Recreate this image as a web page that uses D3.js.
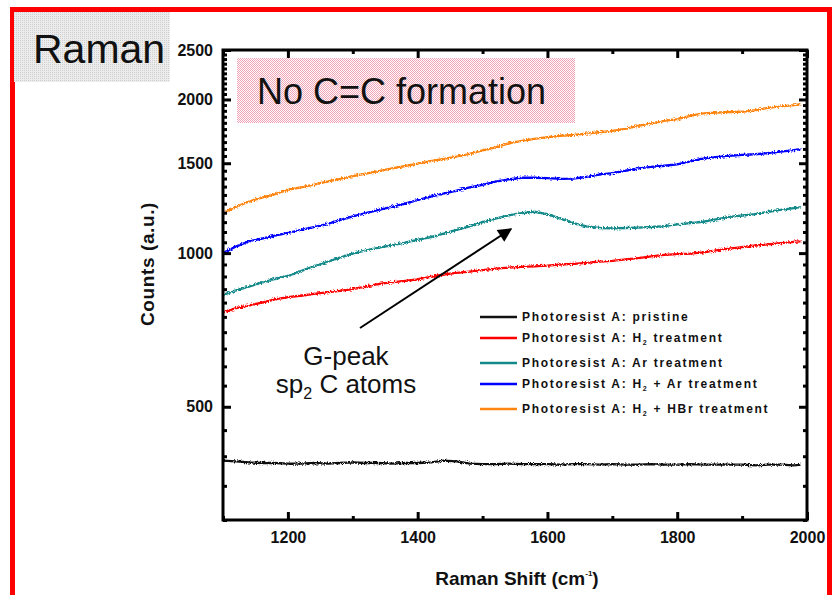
<!DOCTYPE html>
<html>
<head>
<meta charset="utf-8">
<script src="https://cdn.jsdelivr.net/npm/d3@7"></script>
<style>
  body { margin: 0; background: #fff; }
  text { font-family: "Liberation Sans", Arial, sans-serif; }
</style>
</head>
<body>
<script>
var w = 832;
var h = 595;

// Raman shift positions (cm-1)
var shift = [1100, 1120, 1140, 1160, 1180, 1200, 1220, 1240, 1260, 1280,
             1300, 1320, 1340, 1360, 1380, 1400, 1420, 1440, 1460, 1480,
             1500, 1520, 1540, 1560, 1580, 1600, 1620, 1640, 1660, 1680,
             1700, 1720, 1740, 1760, 1780, 1800, 1820, 1840, 1860, 1880,
             1900, 1920, 1940, 1960, 1980, 1990];

var pristine = [392, 391, 389, 388, 388, 387, 387, 388, 387, 388,
                389, 388, 388, 387, 388, 388, 389, 392, 391, 387,
                386, 386, 387, 386, 386, 386, 385, 386, 386, 385,
                386, 385, 385, 386, 385, 385, 386, 385, 385, 385,
                385, 384, 385, 385, 384, 385];

var h2Treat = [765, 780, 790, 800, 812, 820, 825, 832, 838, 843,
               850, 860, 870, 876, 882, 888, 898, 908, 915, 920,
               926, 932, 937, 940, 942, 945, 950, 953, 957, 962,
               966, 972, 978, 985, 992, 995, 998, 1003, 1012, 1020,
               1027, 1035, 1040, 1046, 1052, 1055];

var arTreat = [828, 845, 860, 875, 890, 902, 922, 942, 960, 980,
               998, 1012, 1025, 1035, 1048, 1062, 1075, 1092, 1110, 1128,
               1150, 1168, 1186, 1198, 1205, 1192, 1168, 1145, 1128, 1120,
               1118, 1120, 1122, 1125, 1130, 1138, 1145, 1152, 1165, 1178,
               1185, 1192, 1205, 1215, 1225, 1230];

var h2ArTreat = [1000, 1030, 1055, 1068, 1082, 1095, 1110, 1125, 1140, 1160,
                 1180, 1198, 1215, 1232, 1250, 1270, 1290, 1308, 1325, 1345,
                 1360, 1380, 1395, 1405, 1405, 1402, 1398, 1400, 1410, 1425,
                 1435, 1450, 1466, 1475, 1483, 1492, 1512, 1532, 1542, 1550,
                 1558, 1562, 1570, 1580, 1592, 1598];

var h2HbrTreat = [1200, 1232, 1262, 1285, 1305, 1330, 1345, 1362, 1380, 1398,
                  1415, 1432, 1448, 1465, 1480, 1498, 1515, 1530, 1545, 1565,
                  1590, 1612, 1640, 1660, 1675, 1688, 1698, 1705, 1715, 1725,
                  1735, 1752, 1775, 1795, 1815, 1830, 1858, 1878, 1885, 1890,
                  1892, 1905, 1925, 1938, 1950, 1958];

var seriesNames = ["Photoresist A: pristine",
                   "Photoresist A: H2 treatment",
                   "Photoresist A: Ar treatment",
                   "Photoresist A: H2 + Ar treatment",
                   "Photoresist A: H2 + HBr treatment"];
var seriesValues = [pristine, h2Treat, arTreat, h2ArTreat, h2HbrTreat];
var seriesColors = ["#111111", "#ff0000", "#138a8a", "#0000ff", "#ff8410"];

var xTicks = [1200, 1400, 1600, 1800, 2000];
var yTicks = [500, 1000, 1500, 2000, 2500];

var svg = d3.select("body")
            .append("svg")
            .attr("width", w)
            .attr("height", h);

var defs = svg.append("defs");

var pinkPat = defs.append("pattern")
    .attr("id", "pink").attr("patternUnits", "userSpaceOnUse")
    .attr("width", 2).attr("height", 2);
pinkPat.append("rect").attr("width", 2).attr("height", 2).attr("fill", "#fff");
pinkPat.append("rect").attr("width", 1).attr("height", 1).attr("fill", "#f3a3b6");
pinkPat.append("rect").attr("x", 1).attr("y", 1).attr("width", 1).attr("height", 1).attr("fill", "#f3a3b6");

var grayPat = defs.append("pattern")
    .attr("id", "gray").attr("patternUnits", "userSpaceOnUse")
    .attr("width", 2).attr("height", 2);
grayPat.append("rect").attr("width", 2).attr("height", 2).attr("fill", "#ececec");
grayPat.append("rect").attr("width", 1).attr("height", 1).attr("fill", "#cfcfcf");

// jagged spectrum look
var rough = defs.append("filter").attr("id", "rough")
    .attr("filterUnits", "userSpaceOnUse")
    .attr("x", 200).attr("y", 30).attr("width", 630).attr("height", 520);
rough.append("feTurbulence").attr("type", "fractalNoise")
    .attr("baseFrequency", "0.7").attr("numOctaves", 2).attr("seed", 4)
    .attr("result", "n");
rough.append("feDisplacementMap").attr("in", "SourceGraphic").attr("in2", "n")
    .attr("scale", 4).attr("xChannelSelector", "R").attr("yChannelSelector", "G");

var arrowHead = defs.append("marker")
    .attr("id", "head").attr("viewBox", "0 0 10 10")
    .attr("refX", 9).attr("refY", 5)
    .attr("markerWidth", 8).attr("markerHeight", 7)
    .attr("markerUnits", "strokeWidth")
    .attr("orient", "auto");
arrowHead.append("path").attr("d", "M0,0 L10,5 L0,10 z").attr("fill", "#000");

// slide frame
svg.append("rect")
   .attr("x", 12.5).attr("y", 9.5)
   .attr("width", 817).attr("height", 700)
   .attr("fill", "none")
   .attr("stroke", "#ff0000")
   .attr("stroke-width", 5);

svg.append("rect")
   .attr("x", 14).attr("y", 12).attr("width", 156).attr("height", 70)
   .attr("fill", "url(#gray)");
svg.append("text")
   .attr("x", 33).attr("y", 63)
   .attr("font-size", 41)
   .attr("fill", "#111")
   .text("Raman");

var pLeft = 223, pRight = 807, pTop = 50, pBottom = 520;

var x = d3.scaleLinear().domain([1100, 2000]).range([pLeft, pRight]);
var y = d3.scaleLog().domain([300, 2500]).range([pBottom, pTop]);

svg.append("rect")
   .attr("x", 237).attr("y", 58).attr("width", 338).attr("height", 65)
   .attr("fill", "url(#pink)");
svg.append("text")
   .attr("x", 257).attr("y", 104)
   .attr("font-size", 36)
   .attr("fill", "#111")
   .text("No C=C formation");

// data lines
var line = d3.line()
    .x(function(d){ return x(d[0]); })
    .y(function(d){ return y(d[1]); });

svg.append("g")
   .attr("filter", "url(#rough)")
   .selectAll("path")
   .data(seriesValues)
   .enter()
   .append("path")
   .attr("d", function(vals){
       return line(vals.map(function(v, i){ return [shift[i], v]; }));
   })
   .attr("fill", "none")
   .attr("stroke", function(d, i){ return seriesColors[i]; })
   .attr("stroke-width", 2.3);

// axes, ticks point inward
var minorX = d3.range(1100, 2001, 100).filter(function(v){ return xTicks.indexOf(v) < 0; });
var minorY = d3.range(300, 2501, 50).filter(function(v){ return yTicks.indexOf(v) < 0; });

function styleAxis(g){
    g.select(".domain").remove();
    g.selectAll(".tick line").attr("stroke", "#000").attr("stroke-width", 3);
    g.selectAll("text").attr("fill", "#111")
     .attr("font-family", "'Liberation Sans', Arial, sans-serif");
}

svg.append("g").attr("transform", "translate(0," + pBottom + ")")
   .call(d3.axisBottom(x).tickValues(xTicks).tickSizeInner(-8).tickSizeOuter(0)
         .tickPadding(12).tickFormat(d3.format("d")))
   .call(styleAxis)
   .selectAll("text").attr("font-size", 16).attr("font-weight", "bold");
svg.append("g").attr("transform", "translate(0," + pBottom + ")")
   .call(d3.axisBottom(x).tickValues(minorX).tickSizeInner(-4).tickSizeOuter(0).tickFormat(""))
   .call(styleAxis);
svg.append("g").attr("transform", "translate(0," + pTop + ")")
   .call(d3.axisTop(x).tickValues(xTicks).tickSizeInner(-8).tickSizeOuter(0).tickFormat(""))
   .call(styleAxis);
svg.append("g").attr("transform", "translate(0," + pTop + ")")
   .call(d3.axisTop(x).tickValues(minorX).tickSizeInner(-4).tickSizeOuter(0).tickFormat(""))
   .call(styleAxis);

svg.append("g").attr("transform", "translate(" + pLeft + ",0)")
   .call(d3.axisLeft(y).tickValues(yTicks).tickSizeInner(-8).tickSizeOuter(0)
         .tickPadding(10).tickFormat(d3.format("d")))
   .call(styleAxis)
   .selectAll("text").attr("font-size", 16).attr("font-weight", "bold");
svg.append("g").attr("transform", "translate(" + pLeft + ",0)")
   .call(d3.axisLeft(y).tickValues(minorY).tickSizeInner(-4).tickSizeOuter(0).tickFormat(""))
   .call(styleAxis);
svg.append("g").attr("transform", "translate(" + pRight + ",0)")
   .call(d3.axisRight(y).tickValues(yTicks).tickSizeInner(-8).tickSizeOuter(0).tickFormat(""))
   .call(styleAxis);
svg.append("g").attr("transform", "translate(" + pRight + ",0)")
   .call(d3.axisRight(y).tickValues(minorY).tickSizeInner(-4).tickSizeOuter(0).tickFormat(""))
   .call(styleAxis);

svg.append("rect")
   .attr("x", pLeft).attr("y", pTop)
   .attr("width", pRight - pLeft).attr("height", pBottom - pTop)
   .attr("fill", "none")
   .attr("stroke", "#000")
   .attr("stroke-width", 3);

// axis titles
var xTitle = svg.append("text")
   .attr("x", 517).attr("y", 585)
   .attr("text-anchor", "middle")
   .attr("font-size", 19)
   .attr("font-weight", "bold")
   .attr("fill", "#111");
xTitle.append("tspan").text("Raman Shift (cm");
xTitle.append("tspan").attr("dy", -9).attr("font-size", 8).text("-1");
xTitle.append("tspan").attr("dy", 9).text(")");

svg.append("text")
   .attr("transform", "translate(154,264) rotate(-90)")
   .attr("text-anchor", "middle")
   .attr("font-size", 19)
   .attr("font-weight", "bold")
   .attr("letter-spacing", 0.6)
   .attr("fill", "#111")
   .text("Counts (a.u.)");

// legend
var legendY = [317, 338, 363, 384, 409];
var legend = svg.selectAll(".legend")
   .data(seriesNames)
   .enter()
   .append("g")
   .attr("class", "legend")
   .attr("transform", function(d, i){ return "translate(480," + legendY[i] + ")"; });

legend.append("line")
   .attr("x1", 0).attr("x2", 37)
   .attr("stroke", function(d, i){ return seriesColors[i]; })
   .attr("stroke-width", 2.3);

legend.append("text")
   .attr("x", 42).attr("y", 4)
   .attr("font-size", 12)
   .attr("font-weight", "bold")
   .attr("letter-spacing", 1.7)
   .attr("fill", "#111")
   .each(function(d){
       var t = d3.select(this);
       var parts = d.split("H2");
       parts.forEach(function(p, k){
           if (k > 0){
               t.append("tspan").text("H");
               t.append("tspan").attr("dy", 3).attr("font-size", 7).text("2");
               t.append("tspan").attr("dy", -3).text(p);
           } else {
               t.append("tspan").text(p);
           }
       });
   });

// G-peak annotation
svg.append("line")
   .attr("x1", 360).attr("y1", 328)
   .attr("x2", 511).attr("y2", 229)
   .attr("stroke", "#000")
   .attr("stroke-width", 2)
   .attr("marker-end", "url(#head)");

svg.append("text")
   .attr("x", 346).attr("y", 365)
   .attr("text-anchor", "middle")
   .attr("font-size", 26)
   .attr("fill", "#111")
   .text("G-peak");

var sp = svg.append("text")
   .attr("x", 346).attr("y", 393)
   .attr("text-anchor", "middle")
   .attr("font-size", 26)
   .attr("fill", "#111");
sp.append("tspan").text("sp");
sp.append("tspan").attr("dy", 6).attr("font-size", 16).text("2");
sp.append("tspan").attr("dy", -6).text(" C atoms");
</script>
</body>
</html>
